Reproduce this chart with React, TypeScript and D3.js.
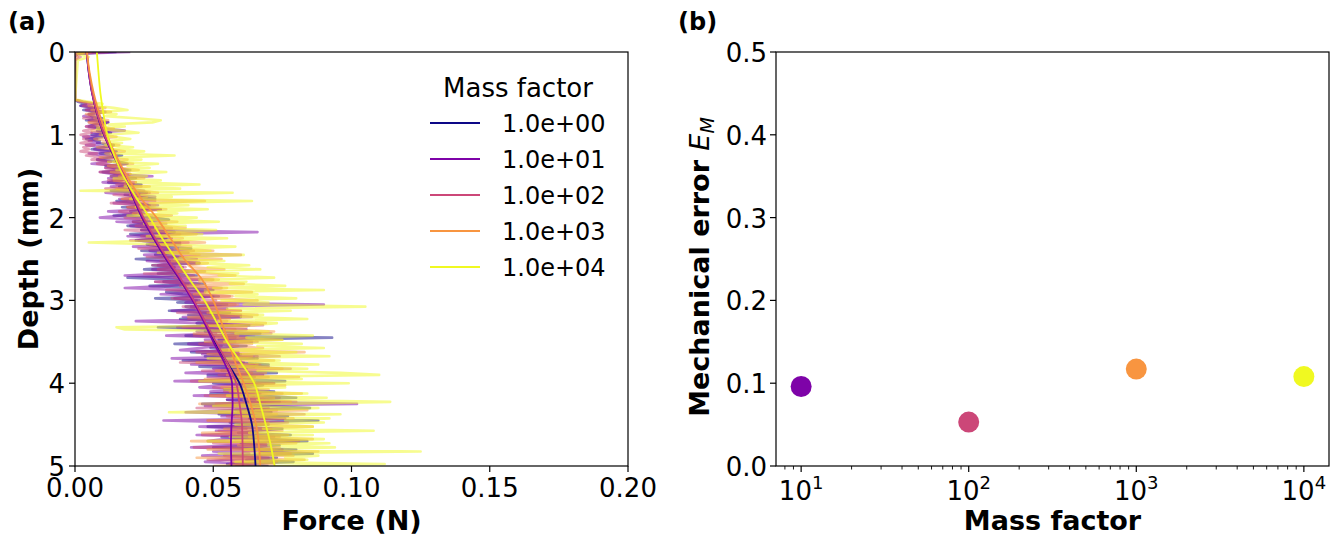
import React from 'react';
import * as d3 from 'd3';

// ---------------- DATA ----------------
const massLabels = ['1.0e+00', '1.0e+01', '1.0e+02', '1.0e+03', '1.0e+04'];
const colorPositions = [0, 0.25, 0.5, 0.75, 1];

// raw traces: force in mN, sampled every 0.025 mm from 0.600 mm to 5.000 mm
const rawStartDepth = 0.6;
const rawStepDepth = 0.025;
const raw1e0 = [
  1, 4, 2, 7, 3, 9, 5, 6, 10, 4, 12, 7, 5, 11, 8, 13, 6, 10, 4, 9,
  8, 14, 10, 6, 15, 9, 17, 12, 8, 16, 19, 11, 14, 20, 10, 18, 13, 22, 15, 12,
  24, 16, 21, 13, 26, 18, 23, 29, 15, 22, 27, 17, 31, 20, 25, 14, 28, 34, 21, 26,
  19, 30, 24, 36, 20, 27, 33, 22, 38, 26, 31, 42, 24, 35, 29, 39, 22, 33, 45, 28,
  36, 25, 41, 30, 44, 19, 38, 32, 47, 27, 42, 50, 33, 39, 52, 29, 45, 37, 55, 40,
  48, 34, 56, 41, 60, 38, 51, 44, 63, 30, 54, 47, 67, 40, 93, 52, 58, 36, 62, 49,
  55, 42, 60, 47, 66, 39, 58, 70, 45, 62, 53, 73, 48, 65, 57, 76, 50, 68, 61, 54,
  72, 49, 66, 80, 55, 74, 46, 69, 85, 58, 71, 52, 77, 63, 88, 56, 70, 48, 75, 66,
  59, 78, 53, 71, 84, 60, 74, 50, 80, 67, 86, 57, 73, 62, 79, 55, 70,
];
const raw1e1 = [
  3, 7, 2, 9, 4, 11, 6, 3, 8, 5, 12, 7, 4, 10, 18, 6, 11, 3, 8, 5,
  9, 4, 12, 7, 14, 5, 10, 15, 8, 13, 6, 16, 11, 19, 9, 14, 28, 12, 17, 10,
  21, 13, 18, 25, 11, 20, 29, 16, 23, 14, 30, 19, 26, 12, 22, 17, 9, 24, 15, 27,
  20, 32, 24, 66, 28, 19, 35, 23, 30, 38, 21, 34, 27, 41, 25, 33, 44, 26, 37, 30,
  39, 28, 43, 33, 18, 36, 45, 29, 41, 34, 18, 38, 47, 31, 50, 36, 44, 40, 90, 42,
  55, 35, 48, 60, 39, 52, 22, 46, 57, 37, 62, 44, 51, 33, 58, 47, 64, 41, 53, 45,
  38, 59, 46, 66, 35, 54, 61, 42, 70, 50, 57, 40, 68, 48, 63, 36, 72, 52, 45, 60,
  49, 67, 43, 74, 55, 61, 102, 47, 70, 58, 40, 64, 53, 76, 32, 59, 68, 45, 62, 51,
  66, 44, 72, 54, 48, 69, 57, 42, 75, 50, 63, 46, 70, 55, 47, 65, 58,
];
const raw1e2 = [
  2, 6, 3, 8, 4, 10, 5, 7, 3, 9, 5, 11, 4, 7, 3, 6, 2, 5, 3, 6,
  2, 7, 3, 5, 2, 8, 4, 10, 6, 13, 8, 15, 11, 17, 9, 20, 13, 18, 12, 22,
  15, 24, 11, 20, 27, 14, 22, 17, 29, 13, 25, 19, 31, 16, 23, 28, 18, 26, 21, 33,
  22, 35, 18, 29, 38, 24, 32, 20, 41, 27, 34, 23, 43, 30, 60, 26, 37, 31, 45, 28,
  40, 30, 47, 25, 43, 36, 50, 29, 45, 38, 53, 33, 48, 41, 56, 35, 51, 44, 58, 39,
  46, 60, 37, 52, 64, 41, 55, 48, 68, 39, 58, 50, 71, 43, 62, 54, 66, 45, 59, 51,
  57, 44, 63, 74, 49, 60, 38, 67, 55, 78, 46, 64, 52, 70, 58, 42, 72, 61, 50, 66,
  54, 75, 47, 68, 62, 80, 51, 66, 44, 73, 59, 83, 55, 69, 48, 77, 63, 57, 71, 52,
  64, 46, 74, 58, 81, 50, 69, 43, 72, 61, 78, 54, 67, 48, 73, 56, 62,
];
const raw1e3 = [
  3, 8, 5, 11, 6, 13, 4, 9, 7, 12, 5, 10, 8, 14, 6, 11, 9, 15, 7, 12,
  10, 16, 8, 13, 18, 11, 15, 9, 19, 14, 21, 12, 17, 23, 13, 20, 16, 25, 14, 22,
  18, 27, 15, 24, 30, 20, 26, 17, 47, 23, 29, 19, 33, 25, 21, 35, 28, 24, 37, 26,
  31, 40, 27, 36, 44, 30, 39, 33, 47, 29, 42, 36, 50, 32, 45, 38, 53, 35, 48, 41,
  42, 54, 36, 48, 58, 41, 52, 45, 61, 39, 55, 47, 64, 43, 57, 50, 66, 44, 59, 53,
  44, 60, 48, 66, 41, 56, 52, 69, 46, 62, 54, 72, 43, 59, 51, 75, 47, 64, 56, 68,
  52, 83, 48, 64, 57, 72, 44, 66, 59, 75, 51, 69, 55, 81, 47, 65, 60, 76, 53, 70,
  56, 82, 49, 72, 61, 78, 45, 67, 63, 84, 52, 73, 58, 79, 48, 70, 64, 86, 54, 75,
  46, 77, 63, 86, 42, 80, 59, 74, 48, 88, 66, 79, 44, 83, 57, 72, 50,
];
const raw1e4 = [
  5, 10, 7, 14, 19, 9, 15, 11, 22, 31, 28, 12, 18, 8, 16, 23, 10, 14, 20, 12,
  17, 11, 21, 14, 25, 13, 36, 16, 24, 12, 30, 19, 27, 15, 33, 20, 26, 14, 31, 22,
  45, 18, 38, 2, 57, 24, 35, 20, 64, 27, 41, 22, 48, 30, 37, 19, 44, 28, 52, 25,
  40, 29, 51, 33, 46, 26, 55, 35, 5, 31, 58, 38, 49, 30, 61, 42, 36, 54, 44, 63,
  48, 67, 40, 59, 52, 72, 45, 62, 56, 76, 50, 90, 47, 66, 58, 80, 53, 70, 61, 105,
  55, 78, 49, 68, 60, 84, 52, 73, 64, 15, 18, 70, 58, 86, 62, 75, 54, 82, 66, 90,
  52, 80, 60, 92, 48, 74, 63, 88, 55, 84, 66, 96, 110, 58, 82, 45, 99, 61, 76, 54,
  62, 84, 55, 91, 66, 114, 72, 50, 88, 70, 34, 96, 60, 92, 76, 90, 58, 86, 68, 108,
  63, 86, 56, 90, 48, 92, 70, 94, 61, 125, 52, 88, 76, 84, 58, 112, 72,
];
const rawSeries = [raw1e0, raw1e1, raw1e2, raw1e3, raw1e4];

// pre-contact part of the raw traces (mN)
const prefixDepths = [0, 0.02, 0.06, 0.1, 0.575];
const prefix1e0 = [15, 0, 0, 0, 0];
const prefix1e1 = [20, 1, 0, 0, 0];
const prefix1e2 = [12, 0, 2, 0, 0];
const prefix1e3 = [6, 0, 1, 0, 0];
const prefix1e4 = [4, 1, 5, 1, 0];
const prefixSeries = [prefix1e0, prefix1e1, prefix1e2, prefix1e3, prefix1e4];

// smoothed mean curves (mN)
const meanDepths = [0, 0.25, 0.5, 0.75, 1.0, 1.25, 1.5, 1.75, 2.0, 2.25, 2.5, 2.75, 3.0, 3.25, 3.5, 3.75, 4.0, 4.25, 4.5, 4.75, 5.0];
const mean1e0 = [4.2, 5.0, 6.2, 8.0, 10.5, 14.0, 17.8, 21.0, 24.3, 28.5, 33.0, 38.0, 42.8, 46.8, 50.6, 55.0, 59.5, 62.0, 64.0, 64.8, 65.3];
const mean1e1 = [4.2, 5.0, 6.2, 8.0, 10.5, 14.0, 17.8, 21.0, 24.3, 28.5, 33.0, 38.0, 42.5, 46.5, 50.0, 54.0, 56.8, 57.0, 56.6, 56.4, 56.6];
const mean1e2 = [4.3, 5.1, 6.3, 8.1, 10.7, 14.2, 18.0, 21.3, 24.8, 29.0, 33.5, 38.5, 43.0, 47.0, 51.0, 55.0, 58.3, 59.5, 60.4, 60.6, 60.7];
const mean1e3 = [4.3, 5.3, 6.8, 8.8, 11.5, 14.8, 18.8, 23.5, 29.5, 34.5, 39.5, 46.0, 50.0, 52.8, 55.5, 58.0, 61.0, 63.5, 65.5, 66.5, 67.0];
const mean1e4 = [7.9, 8.5, 9.2, 10.3, 11.7, 14.2, 17.5, 22.0, 27.0, 31.5, 36.5, 41.5, 46.8, 51.0, 55.0, 60.0, 64.8, 67.0, 69.0, 70.8, 72.2];
const meanSeries = [mean1e0, mean1e1, mean1e2, mean1e3, mean1e4];

const forceTicks = [0, 0.05, 0.1, 0.15, 0.2];
const depthTicks = [0, 1, 2, 3, 4, 5];

// panel (b)
const errMass = [10, 100, 1000, 10000];
const errValues = [0.096, 0.053, 0.117, 0.108];
const errColorPos = [0.25, 0.5, 0.75, 1];
const errTicks = [0, 0.1, 0.2, 0.3, 0.4, 0.5];
const massTicks = [10, 100, 1000, 10000];
const massTickExp = ['1', '2', '3', '4'];

// ---------------- LAYOUT ----------------
const W = 1335;
const H = 537;
const FONT = 'DejaVu Sans, sans-serif';
const A = { l: 75, r: 628, t: 52, b: 466 };
const B = { l: 776, r: 1329, t: 52, b: 466 };

export default function App() {
  const xF = d3.scaleLinear().domain([0, 0.2]).range([A.l, A.r]);
  const yD = d3.scaleLinear().domain([0, 5]).range([A.t, A.b]);
  const xM = d3.scaleLog().domain([Math.pow(10, 0.85), Math.pow(10, 4.15)]).range([B.l, B.r]);
  const yE = d3.scaleLinear().domain([0, 0.5]).range([B.b, B.t]);

  const rawLine = d3
    .line<[number, number]>()
    .x((p) => xF(p[0] / 1000))
    .y((p) => yD(p[1]));
  const meanLine = d3
    .line<[number, number]>()
    .x((p) => xF(p[0] / 1000))
    .y((p) => yD(p[1]))
    .curve(d3.curveMonotoneY);

  const rawPaths = rawSeries.map((vals, s) => {
    const pts: [number, number][] = prefixSeries[s].map((f, i) => [f, prefixDepths[i]]);
    vals.forEach((f, i) => pts.push([f, rawStartDepth + i * rawStepDepth]));
    return rawLine(pts) || '';
  });
  const meanPaths = meanSeries.map((vals) =>
    meanLine(vals.map((f, i) => [f, meanDepths[i]] as [number, number])) || ''
  );
  const colors = colorPositions.map((t) => d3.interpolatePlasma(t));

  const [lo, hi] = xM.domain();
  const minorTicks: number[] = [];
  for (let e = 0; e <= 4; e++) {
    for (let k = 2; k <= 9; k++) {
      const v = k * Math.pow(10, e);
      if (v >= lo && v <= hi) minorTicks.push(v);
    }
  }

  const tickFont = 26;
  const labelFont = 27;

  return (
    <svg
      width={W}
      height={H}
      style={{ position: 'absolute', left: 0, top: 0, background: '#fff' }}
      fontFamily={FONT}
    >
      <defs>
        <clipPath id="clipA">
          <rect x={A.l} y={A.t} width={A.r - A.l} height={A.b - A.t} />
        </clipPath>
      </defs>
      <rect x={0} y={0} width={W} height={H} fill="#fff" />

      {/* ---------- Panel (a) ---------- */}
      <g clipPath="url(#clipA)">
        {rawPaths.map((d, i) => (
          <path key={'r' + i} d={d} fill="none" stroke={colors[i]} strokeOpacity={0.5} strokeWidth={2.6} strokeLinejoin="round" />
        ))}
        {meanPaths.map((d, i) => (
          <path key={'m' + i} d={d} fill="none" stroke={colors[i]} strokeWidth={1.8} />
        ))}
      </g>
      <rect x={A.l} y={A.t} width={A.r - A.l} height={A.b - A.t} fill="none" stroke="#000" strokeWidth={1.2} />
      {forceTicks.map((t) => (
        <g key={'fx' + t}>
          <line x1={xF(t)} x2={xF(t)} y1={A.b} y2={A.b + 6} stroke="#000" strokeWidth={1.2} />
          <text x={xF(t)} y={A.b + 31} fontSize={tickFont} textAnchor="middle">
            {t.toFixed(2)}
          </text>
        </g>
      ))}
      {depthTicks.map((t) => (
        <g key={'dy' + t}>
          <line x1={A.l - 6} x2={A.l} y1={yD(t)} y2={yD(t)} stroke="#000" strokeWidth={1.2} />
          <text x={A.l - 10} y={yD(t) + 10} fontSize={tickFont} textAnchor="end">
            {t}
          </text>
        </g>
      ))}
      <text x={(A.l + A.r) / 2} y={530} fontSize={labelFont} fontWeight="bold" textAnchor="middle">
        Force (N)
      </text>
      <text
        transform={`translate(38,${(A.t + A.b) / 2}) rotate(-90)`}
        fontSize={labelFont}
        fontWeight="bold"
        textAnchor="middle"
      >
        Depth (mm)
      </text>
      <text x={8} y={30} fontSize={24} fontWeight="bold">
        (a)
      </text>

      {/* legend */}
      <text x={518} y={97} fontSize={26} textAnchor="middle">
        Mass factor
      </text>
      {massLabels.map((lab, i) => {
        const y = 123 + i * 36;
        return (
          <g key={'lg' + i}>
            <line x1={430} x2={480} y1={y} y2={y} stroke={colors[i]} strokeWidth={2.2} />
            <text x={502} y={y + 9} fontSize={24}>
              {lab}
            </text>
          </g>
        );
      })}

      {/* ---------- Panel (b) ---------- */}
      {errMass.map((m, i) => (
        <circle key={'pt' + i} cx={xM(m)} cy={yE(errValues[i])} r={10.5} fill={d3.interpolatePlasma(errColorPos[i])} />
      ))}
      <rect x={B.l} y={B.t} width={B.r - B.l} height={B.b - B.t} fill="none" stroke="#000" strokeWidth={1.2} />
      {errTicks.map((t) => (
        <g key={'ey' + t}>
          <line x1={B.l - 6} x2={B.l} y1={yE(t)} y2={yE(t)} stroke="#000" strokeWidth={1.2} />
          <text x={B.l - 9} y={yE(t) + 10} fontSize={tickFont} textAnchor="end">
            {t.toFixed(1)}
          </text>
        </g>
      ))}
      {massTicks.map((t, i) => (
        <g key={'mx' + t}>
          <line x1={xM(t)} x2={xM(t)} y1={B.b} y2={B.b + 6} stroke="#000" strokeWidth={1.2} />
          <text x={xM(t)} y={B.b + 34} fontSize={tickFont} textAnchor="middle">
            10
            <tspan dy={-11} fontSize={18}>
              {massTickExp[i]}
            </tspan>
          </text>
        </g>
      ))}
      {minorTicks.map((t) => (
        <line key={'mn' + t} x1={xM(t)} x2={xM(t)} y1={B.b} y2={B.b + 3.5} stroke="#000" strokeWidth={0.9} />
      ))}
      <text x={(B.l + B.r) / 2} y={530} fontSize={labelFont} fontWeight="bold" textAnchor="middle">
        Mass factor
      </text>
      <text
        transform={`translate(709,${(B.t + B.b) / 2 + 8}) rotate(-90)`}
        fontSize={labelFont}
        fontWeight="bold"
        textAnchor="middle"
      >
        Mechanical error{' '}
        <tspan fontStyle="italic" fontWeight="normal">
          E
        </tspan>
        <tspan fontStyle="italic" fontWeight="normal" fontSize={19} dy={5}>
          M
        </tspan>
      </text>
      <text x={678} y={30} fontSize={24} fontWeight="bold">
        (b)
      </text>
    </svg>
  );
}
